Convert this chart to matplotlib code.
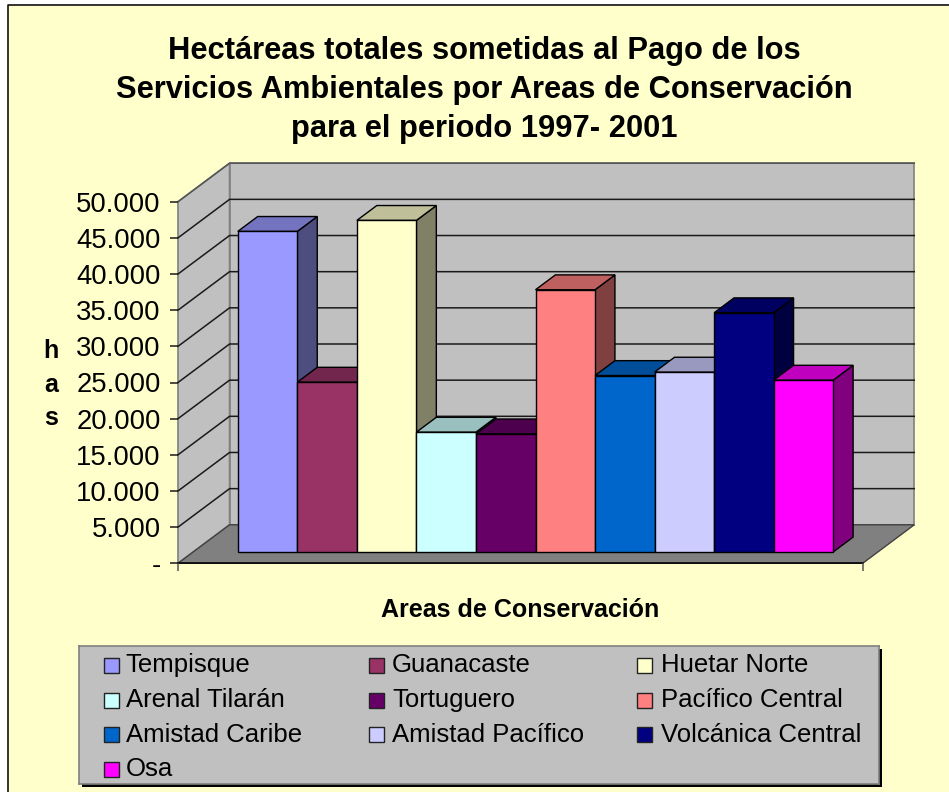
"""Pago de Servicios Ambientales: Excel style 3D columns drawn on a flat axes"""

import matplotlib

matplotlib.use("Agg")
import matplotlib.pyplot as plt
from matplotlib.lines import Line2D
from matplotlib.patches import Polygon, Rectangle

plt.rcParams["font.family"] = ["Liberation Sans", "DejaVu Sans"]

W, H = 949, 792

areas = [
    "Tempisque", "Guanacaste", "Huetar Norte", "Arenal Tilarán", "Tortuguero",
    "Pacífico Central", "Amistad Caribe", "Amistad Pacífico", "Volcánica Central", "Osa",
]
hectareas = [44330, 23480, 45850, 16570, 16330, 36260, 24400, 24870, 33080, 23760]
colores = [
    "#9999FF", "#993366", "#FFFFCC", "#CCFFFF", "#660066",
    "#FF8080", "#0066CC", "#CCCCFF", "#000080", "#FF00FF",
]
y_ticks = [0, 5000, 10000, 15000, 20000, 25000, 30000, 35000, 40000, 45000, 50000]
y_labels = ["-", "5.000", "10.000", "15.000", "20.000", "25.000", "30.000", "35.000", "40.000", "45.000", "50.000"]
titulo = "Hectáreas totales sometidas al Pago de los\nServicios Ambientales por Areas de Conservación\npara el periodo 1997- 2001"

BG = "#FFFFCC"
WALL = "#C0C0C0"
FLOOR = "#808080"

# depth of the chart box, in category units and in value units
DX = 0.866
DY = 5324
D_FRONT = 0.294
D_BACK = 0.68
X_MIN, X_MAX = -0.75, 10.75


def box(x0, y0, x1, y1):
    """Axes position from pixel coordinates with the origin top left."""
    return [x0 / W, 1 - y1 / H, (x1 - x0) / W, (y1 - y0) / H]


def oblique(x, y, d):
    """Shift a point back along the depth of the chart."""
    return (x + d * DX, y + d * DY)


def shade(color, factor):
    rgb = matplotlib.colors.to_rgb(color)
    return tuple(c * factor for c in rgb)


def face(ax, points, color, edge="black", lw=1.0, zorder=2):
    ax.add_patch(Polygon(points, closed=True, facecolor=color, edgecolor=edge, linewidth=lw,
                         zorder=zorder, clip_on=False, joinstyle="miter"))


fig = plt.figure(figsize=(W / 100, H / 100), dpi=100, facecolor="white")

# chart area: only the left and top frame lines are inside the picture
fig.add_artist(Rectangle((8 / W, 0), 1 - 8 / W, 1 - 5 / H, transform=fig.transFigure,
                         facecolor=BG, edgecolor="none", zorder=-2))
fig.add_artist(Line2D([8 / W, 8 / W, 1], [0, 1 - 5 / H, 1 - 5 / H], transform=fig.transFigure,
                      color="#111111", linewidth=1.2, zorder=-1))

ax = fig.add_axes(box(178, 201.7, 862.7, 563.3))
ax.set_xlim(X_MIN, X_MAX)
ax.set_ylim(0, 50000)
ax.patch.set_visible(False)
for side in ["top", "right", "left"]:
    ax.spines[side].set_visible(False)
ax.spines["bottom"].set_zorder(1.5)
ax.spines["bottom"].set_linewidth(1.1)

# walls and floor
face(ax, [oblique(X_MIN, 0, 0), oblique(X_MIN, 0, 1), oblique(X_MIN, 50000, 1), oblique(X_MIN, 50000, 0)],
     WALL, edge=FLOOR, lw=1.2, zorder=0.5)
face(ax, [oblique(X_MIN, 0, 1), oblique(X_MAX, 0, 1), oblique(X_MAX, 50000, 1), oblique(X_MIN, 50000, 1)],
     WALL, edge=FLOOR, lw=1.2, zorder=0.5)
face(ax, [oblique(X_MIN, 0, 0), oblique(X_MAX, 0, 0), oblique(X_MAX, 0, 1), oblique(X_MIN, 0, 1)],
     FLOOR, edge="#404040", lw=1.0, zorder=0.6)

# gridlines over both walls
for t in y_ticks[1:]:
    xs, ys = zip(oblique(X_MIN, t, 0), oblique(X_MIN, t, 1), oblique(X_MAX, t, 1))
    line_color = "#555555" if t == 50000 else "#1a1a1a"
    ax.plot(xs, ys, color=line_color, linewidth=1.1, zorder=0.8, clip_on=False)

# columns: side and top faces first, left to right so the next one covers the side
for i, (v, c) in enumerate(zip(hectareas, colores)):
    face(ax, [oblique(i + 1, 0, D_FRONT), oblique(i + 1, 0, D_BACK), oblique(i + 1, v, D_BACK), oblique(i + 1, v, D_FRONT)],
         shade(c, 0.5), zorder=2 + i * 0.1)
    face(ax, [oblique(i, v, D_FRONT), oblique(i + 1, v, D_FRONT), oblique(i + 1, v, D_BACK), oblique(i, v, D_BACK)],
         shade(c, 0.75), zorder=2 + i * 0.1)
    front_x, front_y = oblique(i, 0, D_FRONT)
    ax.bar(front_x, v, width=1, bottom=front_y, align="edge", color=c, edgecolor="black",
           linewidth=1.0, zorder=2.05 + i * 0.1, clip_on=False)

ax.set_yticks(y_ticks)
ax.set_yticklabels(y_labels)
ax.set_xticks([X_MIN, X_MAX])
ax.set_xticklabels(["", ""])
ax.tick_params(axis="y", labelsize=19.8, length=6, width=1.1, pad=6.5, color="#1a1a1a")
ax.tick_params(axis="x", length=6, width=1.1, color="#555555")

# title lines placed by baseline
for line, y in zip(titulo.split("\n"), [59, 98, 137]):
    fig.text(0.51, 1 - y / H, line, ha="center", va="baseline", fontsize=22.2, fontweight="bold")
fig.text(520 / W, 1 - 610 / H, "Areas de Conservación", ha="center", va="center", fontsize=18, fontweight="bold")
fig.text(51 / W, 1 - 384.5 / H, "h\na\ns", ha="center", va="center", fontsize=18, fontweight="bold", linespacing=1.49)

# legend box, filled row by row like Excel does
leg = fig.add_axes(box(79.3, 645.7, 879.3, 784.3))
leg.set_xlim(79.3, 879.3)
leg.set_ylim(784.3, 645.7)
leg.set_facecolor(WALL)
for side in leg.spines.values():
    side.set_color(FLOOR)
    side.set_linewidth(1.2)
leg.set_xticks([])
leg.set_yticks([])
fig.add_artist(Rectangle((82.3 / W, 1 - 787.3 / H), 800 / W, 138.6 / H, transform=fig.transFigure,
                         facecolor="black", edgecolor="none", zorder=0.9))
leg.set_zorder(2)

for i, (name, c) in enumerate(zip(areas, colores)):
    col, row = i % 3, i // 3
    y = 665.3 + row * 34.7
    leg.add_patch(Rectangle(([103.5, 368.5, 636.5][col], y - 7.5), 15.5, 15, facecolor=c, edgecolor="#222222", linewidth=1.0))
    leg.text([125.5, 392, 660.5][col], y, name, ha="left", va="center", fontsize=18.5)

fig.savefig("out.png", dpi=100, facecolor=fig.get_facecolor())
